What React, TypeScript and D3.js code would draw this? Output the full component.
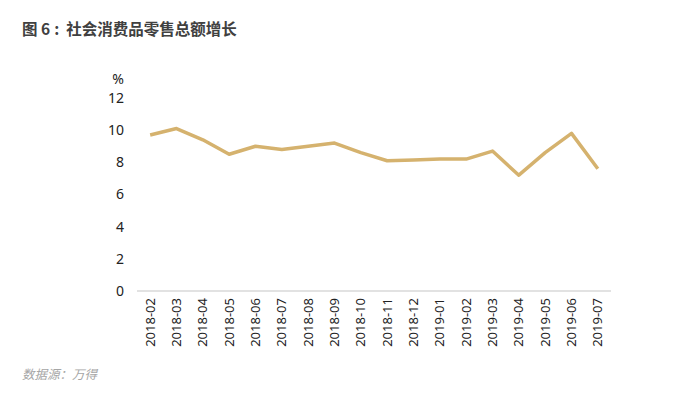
import React from "react";
import * as d3 from "d3";

const categories = ["2018-02","2018-03","2018-04","2018-05","2018-06","2018-07","2018-08","2018-09","2018-10","2018-11","2018-12","2019-01","2019-02","2019-03","2019-04","2019-05","2019-06","2019-07"];
const values = [9.7, 10.1, 9.4, 8.5, 9.0, 8.8, 9.0, 9.2, 8.6, 8.1, 8.15, 8.2, 8.2, 8.7, 7.2, 8.6, 9.8, 7.6];
const yTicks = [0, 2, 4, 6, 8, 10, 12];

export default function App() {
  const W = 697, H = 399;
  const x = d3.scaleBand<string>().domain(categories).range([137, 611]);
  const y = d3.scaleLinear().domain([0, 12]).range([291, 98]);
  const line = d3.line<number>()
    .x((_, i) => (x(categories[i]) as number) + x.bandwidth() / 2)
    .y((d) => y(d));
  const font = "'Segoe UI', 'Noto Sans', 'DejaVu Sans', sans-serif";
  return (
    <svg width={W} height={H} style={{ position: "absolute", left: 0, top: 0, background: "#fff" }}>
      <text x={22} y={35} fontSize={15.5} fontWeight="bold" fill="#404040" fontFamily="'Noto Sans CJK SC', sans-serif">
        图 6<tspan dx={4}>:</tspan><tspan dx={7}>社会消费品零售总额增长</tspan>
      </text>
      <text x={118} y={84} fontSize={14} fill="#222" fontFamily={font} textAnchor="middle">%</text>
      {yTicks.map((t) => (
        <text key={t} x={124} y={y(t)} dy="0.35em" textAnchor="end" fontSize={14} fill="#222" fontFamily={font}>{t}</text>
      ))}
      <line x1={137} x2={611} y1={y(0)} y2={y(0)} stroke="#d9d9d9" strokeWidth={1.5} />
      {categories.map((c) => {
        const cx = (x(c) as number) + x.bandwidth() / 2;
        return (
          <text key={c} transform={`translate(${cx},298) rotate(-90)`} textAnchor="end" dy="0.35em" fontSize={13} fill="#222" fontFamily={font}>{c}</text>
        );
      })}
      <path d={line(values) || ""} fill="none" stroke="#d5b26e" strokeWidth={3.5} strokeLinejoin="round" />
      <text x={22} y={379} fontSize={12.5} fontStyle="italic" fill="#a6a6a6" fontFamily="'Noto Sans CJK SC', sans-serif">数据源：万得</text>
    </svg>
  );
}
